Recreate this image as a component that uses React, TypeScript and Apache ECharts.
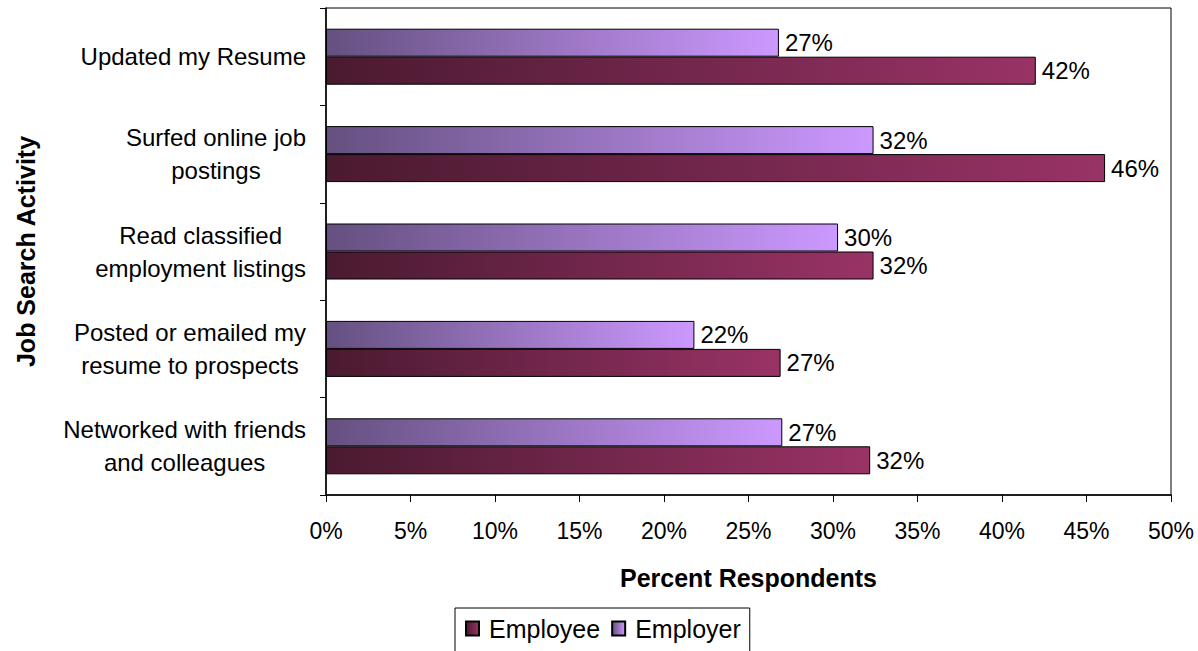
import React, { useEffect, useRef } from "react";
import * as echarts from "echarts";

const categories = [
  "Updated my Resume",
  "Surfed online job\npostings",
  "Read classified\nemployment listings",
  "Posted or emailed my\nresume to prospects",
  "Networked with friends\nand colleagues",
];
const employerValues = [26.8, 32.4, 30.3, 21.8, 27.0];
const employeeValues = [42.0, 46.1, 32.4, 26.9, 32.2];
const xTicks = { min: 0, max: 50, interval: 5 };

const FONT = "'Liberation Sans', Arial, sans-serif";

export default function App() {
  const ref = useRef<HTMLDivElement>(null);
  useEffect(() => {
    if (!ref.current) return;
    const chart = echarts.init(ref.current, undefined, { renderer: "svg" });
    const grad = (a: string, b: string) =>
      new echarts.graphic.LinearGradient(0, 0, 1, 0, [
        { offset: 0, color: a },
        { offset: 1, color: b },
      ]);
    const labelCfg = {
      show: true,
      position: "right",
      distance: 6,
      fontSize: 24,
      fontFamily: FONT,
      color: "#000",
      formatter: (p: any) => Math.round(p.value) + "%",
    };
    chart.setOption({
      animation: false,
      textStyle: { fontFamily: FONT },
      grid: {
        left: 326,
        right: 27,
        top: 8,
        bottom: 156,
        show: true,
        borderColor: "#000",
        borderWidth: 1,
        backgroundColor: "#fff",
      },
      legend: {
        data: ["Employee", "Employer"],
        left: 455,
        top: 608,
        itemWidth: 13,
        itemHeight: 14,
        itemGap: 11,
        padding: [8, 9, 20, 10],
        borderColor: "#000",
        borderWidth: 1,
        icon: "rect",
        textStyle: { fontSize: 25, color: "#000", fontFamily: FONT, padding: [0, 0, 0, 5] },
      },
      xAxis: {
        type: "value",
        min: xTicks.min,
        max: xTicks.max,
        interval: xTicks.interval,
        name: "Percent Respondents",
        nameLocation: "middle",
        nameGap: 70,
        nameTextStyle: { fontSize: 25, fontWeight: "bold", color: "#000", fontFamily: FONT },
        axisLine: { show: true, lineStyle: { color: "#000", width: 1.5 } },
        axisTick: { show: true, length: 7, lineStyle: { color: "#000" } },
        splitLine: { show: false },
        axisLabel: {
          fontSize: 23,
          color: "#000",
          margin: 24,
          fontFamily: FONT,
          formatter: "{value}%",
        },
      },
      yAxis: {
        type: "category",
        inverse: true,
        data: categories,
        name: "Job Search Activity",
        nameLocation: "middle",
        nameGap: 288,
        nameTextStyle: { fontSize: 25, fontWeight: "bold", color: "#000", fontFamily: FONT },
        axisLine: { show: true, lineStyle: { color: "#000", width: 1.5 } },
        axisTick: { show: true, length: 6, alignWithLabel: false, lineStyle: { color: "#000" } },
        axisLabel: {
          fontSize: 24,
          color: "#000",
          margin: 20,
          align: "right",
          lineHeight: 33,
          formatter: (v: string) =>
            v
              .split("\n")
              .map((l) => "{c|" + l + "}")
              .join("\n"),
          rich: {
            c: { align: "center", fontSize: 24, lineHeight: 33, color: "#000", fontFamily: FONT },
          },
        },
      },
      series: [
        {
          name: "Employer",
          type: "bar",
          data: employerValues,
          barWidth: 28,
          barGap: "0%",
          itemStyle: {
            color: grad("#655080", "#cc99ff"),
            borderColor: "#000",
            borderWidth: 1,
          },
          label: labelCfg,
        },
        {
          name: "Employee",
          type: "bar",
          data: employeeValues,
          barWidth: 28,
          barGap: "0%",
          itemStyle: {
            color: grad("#4a1a30", "#993366"),
            borderColor: "#000",
            borderWidth: 1,
          },
          label: labelCfg,
        },
      ],
    });
    return () => chart.dispose();
  }, []);
  return (
    <div
      ref={ref}
      style={{ position: "fixed", left: 0, top: 0, width: 1198, height: 651, background: "#fff" }}
    />
  );
}
